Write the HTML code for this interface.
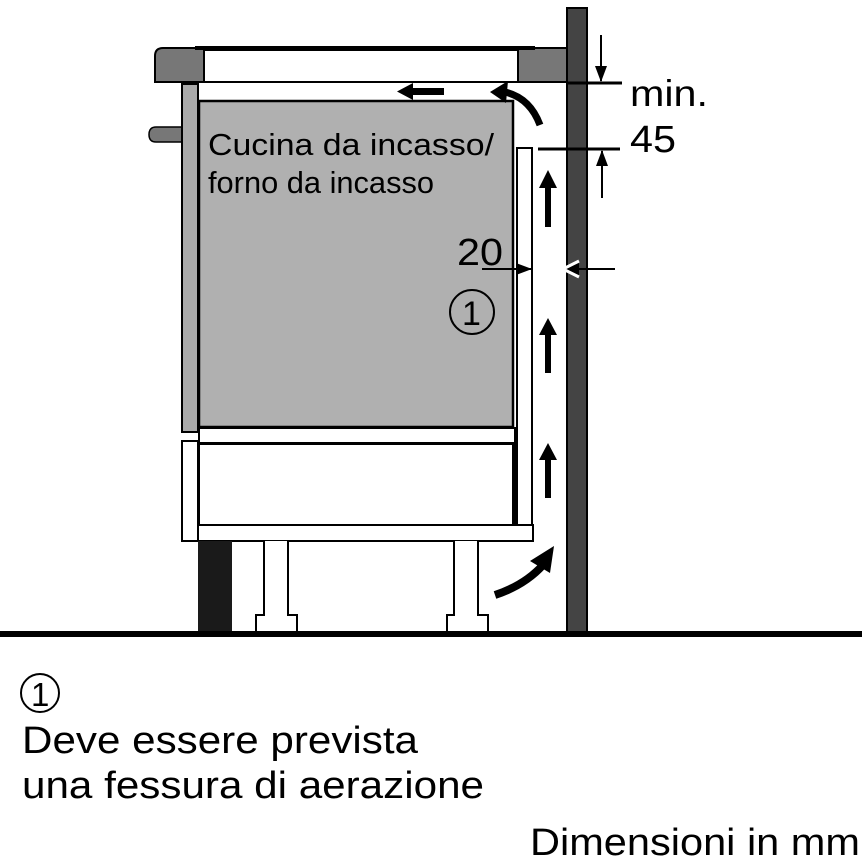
<!DOCTYPE html>
<html><head><meta charset="utf-8"><style>html,body{margin:0;padding:0;background:#fff}svg{display:block}</style></head>
<body>
<svg width="867" height="867" viewBox="0 0 867 867" xmlns="http://www.w3.org/2000/svg" font-family="Liberation Sans, sans-serif">
<defs>
<marker id="ah" markerWidth="16" markerHeight="12" refX="15" refY="6" orient="auto" markerUnits="userSpaceOnUse"><path d="M0,0 L16,6 L0,12 z" fill="#000"/></marker>
</defs>
<rect x="567" y="8" width="20" height="626" fill="#444" stroke="#000" stroke-width="2"/>
<path d="M163,48 H567 V82 H155 V56 Q155,48 163,48 z" fill="#777" stroke="#000" stroke-width="2"/>
<rect x="204" y="50" width="314" height="32" fill="#fff" stroke="#000" stroke-width="2"/>
<line x1="195" y1="48" x2="535" y2="48" stroke="#000" stroke-width="4"/>
<path d="M182,127 H156 Q149,127 149,134.5 Q149,142 156,142 H182 z" fill="#777" stroke="#000" stroke-width="1.5"/>
<rect x="182" y="84" width="16" height="348" fill="#aaa" stroke="#000" stroke-width="2"/>
<rect x="199" y="101" width="314" height="326" fill="#b0b0b0" stroke="#000" stroke-width="2.5"/>
<rect x="199" y="428" width="316" height="15" fill="#fff" stroke="#000" stroke-width="2"/>
<rect x="199" y="444" width="316" height="81" fill="#fff" stroke="#000" stroke-width="2"/>
<line x1="514" y1="444" x2="514" y2="525" stroke="#000" stroke-width="4"/>
<rect x="182" y="441" width="16" height="100" fill="#fff" stroke="#000" stroke-width="2"/>
<rect x="517" y="148" width="15" height="377" fill="#fff" stroke="#000" stroke-width="2"/>
<rect x="198" y="525" width="335" height="16" fill="#fff" stroke="#000" stroke-width="2"/>
<rect x="198" y="541" width="34" height="92" fill="#1a1a1a"/>
<path d="M264,541 V615 H256 V632 H297 V615 H288 V541" fill="#fff" stroke="#000" stroke-width="2"/>
<path d="M454,541 V615 H447 V632 H488 V615 H478 V541" fill="#fff" stroke="#000" stroke-width="2"/>
<rect x="0" y="631" width="862" height="6" fill="#000"/>
<g fill="#000">
<path d="M545,227 V188 H539 L548,170 L557,188 H551 V227 z"/>
<path d="M545,373 V335 H539 L548,318 L557,335 H551 V373 z"/>
<path d="M545,498 V460 H539 L548,443 L557,460 H551 V498 z"/>
<path d="M444,88 V95 H413 V100 L397,91.5 L413,83 V88 z"/>
</g>
<path d="M540,125 Q530,98 505,92" fill="none" stroke="#000" stroke-width="7"/>
<path d="M490,92 L508,81 L506,103 z" fill="#000"/>
<path d="M495,595 Q525,585 543,565" fill="none" stroke="#000" stroke-width="8"/>
<path d="M554,546 L530,561 L550,573 z" fill="#000"/>
<line x1="567" y1="83" x2="622" y2="83" stroke="#000" stroke-width="3"/>
<line x1="601" y1="35" x2="601" y2="81" stroke="#000" stroke-width="2" marker-end="url(#ah)"/>
<line x1="538" y1="149" x2="620" y2="149" stroke="#000" stroke-width="3"/>
<line x1="602" y1="198" x2="602" y2="151" stroke="#000" stroke-width="2" marker-end="url(#ah)"/>
<line x1="482" y1="269" x2="531" y2="269" stroke="#000" stroke-width="2" marker-end="url(#ah)"/>
<line x1="615" y1="269" x2="564" y2="269" stroke="#000" stroke-width="2" marker-end="url(#ah)"/>
<path d="M563,269 L579,261 M563,269 L579,277" stroke="#fff" stroke-width="3"/>
<g fill="#000">
<text x="630" y="106" font-size="37" textLength="78" lengthAdjust="spacingAndGlyphs">min.</text>
<text x="630" y="152" font-size="38" textLength="46" lengthAdjust="spacingAndGlyphs">45</text>
<text x="208" y="155" font-size="31" textLength="286" lengthAdjust="spacingAndGlyphs">Cucina da incasso/</text>
<text x="208" y="193" font-size="31" textLength="226" lengthAdjust="spacingAndGlyphs">forno da incasso</text>
<text x="457" y="265" font-size="38" textLength="46" lengthAdjust="spacingAndGlyphs">20</text>
<text x="462" y="325" font-size="34">1</text>
</g>
<circle cx="472" cy="312" r="22" fill="none" stroke="#000" stroke-width="2"/>
<circle cx="40" cy="693" r="19" fill="none" stroke="#000" stroke-width="2"/>
<text x="31" y="706" font-size="33">1</text>
<text x="22" y="753" font-size="38" textLength="396" lengthAdjust="spacingAndGlyphs">Deve essere prevista</text>
<text x="22" y="798" font-size="38" textLength="462" lengthAdjust="spacingAndGlyphs">una fessura di aerazione</text>
<text x="530" y="855" font-size="38" textLength="330" lengthAdjust="spacingAndGlyphs">Dimensioni in mm</text>
</svg>
</body></html>
